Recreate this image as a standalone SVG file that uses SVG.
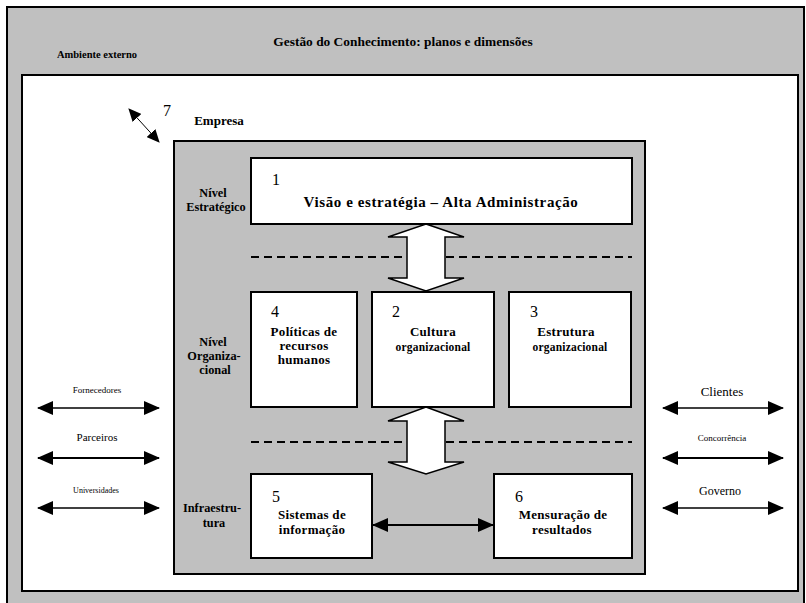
<svg xmlns="http://www.w3.org/2000/svg" width="806" height="603" viewBox="0 0 806 603" font-family="'Liberation Serif', 'Times New Roman', serif">
<defs>
<style>
.b{font-weight:bold}
.box{fill:#fff;stroke:#000;stroke-width:2}
.num{font-size:16px}
.lbl{font-size:13px;font-weight:bold;text-anchor:middle;letter-spacing:0.3px}
.sm{font-size:11.5px;font-weight:bold;text-anchor:middle;letter-spacing:0.2px}
.lvl{font-size:12.3px;font-weight:bold;text-anchor:middle}
.dash{stroke:#000;stroke-width:2;stroke-dasharray:8,5;fill:none}
.block{fill:#fff;stroke:#000;stroke-width:1.5;stroke-linejoin:miter}
.ln{stroke:#000;fill:none}
.ext{text-anchor:middle}
</style>
<marker id="ah" viewBox="0 0 16 14" refX="15" refY="7" markerWidth="16" markerHeight="14" markerUnits="userSpaceOnUse" orient="auto-start-reverse">
<path d="M0,0 L16,7 L0,14 Z" fill="#000"/>
</marker>
<marker id="ah7" viewBox="0 0 13 12" refX="12" refY="6" markerWidth="13" markerHeight="12" markerUnits="userSpaceOnUse" orient="auto-start-reverse">
<path d="M0,0 L13,6 L0,12 Z" fill="#000"/>
</marker>
</defs>

<g id="ambiente-externo">
<rect x="7" y="7" width="797" height="610" fill="#c0c0c0" stroke="#000" stroke-width="2"/>
<text x="403" y="46" class="b" font-size="13.4" text-anchor="middle">Gestão do Conhecimento: planos e dimensões</text>
<text x="97" y="58" class="b" font-size="10.5" text-anchor="middle">Ambiente externo</text>
<rect x="22" y="75" width="776" height="516" fill="#fff" stroke="#000" stroke-width="2"/>
</g>

<g id="empresa">
<text x="219" y="125" class="b" font-size="13" text-anchor="middle">Empresa</text>
<text x="163" y="116" class="num">7</text>
<rect x="174" y="141" width="471" height="433" fill="#c0c0c0" stroke="#000" stroke-width="2"/>
<text x="213" y="197" class="lvl">Nível</text>
<text x="216" y="211" class="lvl">Estratégico</text>
<text x="213" y="346" class="lvl">Nível</text>
<text x="214" y="360" class="lvl">Organiza-</text>
<text x="215" y="374" class="lvl">cional</text>
<text x="212" y="512" class="lvl">Infraestru-</text>
<text x="214" y="527" class="lvl">tura</text>
</g>

<g id="connectors">
<line class="dash" x1="251" y1="257" x2="632" y2="257"/>
<line class="dash" x1="251" y1="442" x2="632" y2="442"/>
<polygon class="block" points="426,224 464,237 445,237 445,278 464,278 426,291 388,278 407,278 407,237 388,237"/>
<polygon class="block" points="426,407 464,421 445,421 445,462 464,462 426,474 388,462 407,462 407,421 388,421"/>
<line class="ln" stroke-width="2" x1="373" y1="525" x2="493" y2="525" marker-start="url(#ah)" marker-end="url(#ah)"/>
<line class="ln" stroke-width="1" x1="129" y1="109" x2="159" y2="142" marker-start="url(#ah7)" marker-end="url(#ah7)"/>
<line class="ln" stroke-width="1.5" x1="38" y1="408" x2="159" y2="408" marker-start="url(#ah)" marker-end="url(#ah)"/>
<line class="ln" stroke-width="2.2" x1="38" y1="458" x2="159" y2="458" marker-start="url(#ah)" marker-end="url(#ah)"/>
<line class="ln" stroke-width="1.5" x1="38" y1="508" x2="159" y2="508" marker-start="url(#ah)" marker-end="url(#ah)"/>
<line class="ln" stroke-width="1.5" x1="663" y1="408" x2="783" y2="408" marker-start="url(#ah)" marker-end="url(#ah)"/>
<line class="ln" stroke-width="2.2" x1="663" y1="458" x2="783" y2="458" marker-start="url(#ah)" marker-end="url(#ah)"/>
<line class="ln" stroke-width="1.5" x1="663" y1="508" x2="783" y2="508" marker-start="url(#ah)" marker-end="url(#ah)"/>
</g>

<g id="ext-labels">
<text x="97" y="393" class="ext" font-size="9">Fornecedores</text>
<text x="97" y="441" class="ext" font-size="11">Parceiros</text>
<text x="96" y="493" class="ext" font-size="8">Universidades</text>
<text x="722" y="396" class="ext" font-size="13">Clientes</text>
<text x="722" y="441" class="ext" font-size="9">Concorrência</text>
<text x="720" y="495" class="ext" font-size="12">Governo</text>
</g>

<g id="n1">
<rect class="box" x="251" y="158" width="381" height="66"/>
<text x="272" y="185" class="num">1</text>
<text x="441" y="207" class="b" font-size="15" text-anchor="middle" letter-spacing="0.6">Visão e estratégia – Alta Administração</text>
</g>

<g id="n4">
<rect class="box" x="251" y="292" width="106" height="115"/>
<text x="271" y="317" class="num">4</text>
<text x="304" y="336" class="lbl">Políticas de</text>
<text x="304" y="350" class="lbl">recursos</text>
<text x="304" y="364" class="lbl">humanos</text>
</g>

<g id="n2">
<rect class="box" x="372" y="292" width="122" height="115"/>
<text x="392" y="317" class="num">2</text>
<text x="433" y="336" class="lbl">Cultura</text>
<text x="433" y="351" class="sm">organizacional</text>
</g>

<g id="n3">
<rect class="box" x="509" y="292" width="122" height="115"/>
<text x="530" y="317" class="num">3</text>
<text x="566" y="336" class="lbl">Estrutura</text>
<text x="570" y="351" class="sm">organizacional</text>
</g>

<g id="n5">
<rect class="box" x="251" y="474" width="121" height="84"/>
<text x="272" y="502" class="num">5</text>
<text x="312" y="519" class="lbl">Sistemas de</text>
<text x="312" y="534" class="lbl">informação</text>
</g>

<g id="n6">
<rect class="box" x="494" y="474" width="138" height="84"/>
<text x="515" y="502" class="num">6</text>
<text x="563" y="519" class="lbl">Mensuração de</text>
<text x="562" y="534" class="lbl">resultados</text>
</g>
</svg>
